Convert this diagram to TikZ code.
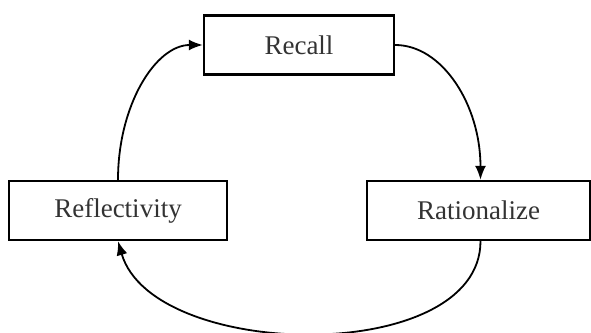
\documentclass[tikz,border=0pt]{standalone}
\usepackage{fontspec}
\setmainfont{Liberation Serif}
\usetikzlibrary{arrows.meta}
\definecolor{txtgray}{HTML}{333333}
\tikzset{
  stage/.style={draw, line width=1.2pt, inner sep=0pt, minimum height=29.5pt,
    text=txtgray, font=\fontsize{13.5}{16}\selectfont},
  cyc/.style={line width=0.9pt, -{Latex[length=7pt,width=5.5pt]}}
}
\begin{document}
\begin{tikzpicture}[x=0.5pt,y=0.5pt]
            \useasboundingbox (0,0) rectangle (591,333);

            % 三个阶段
            \node[stage, minimum width=95pt] (recall) at (299,288) {Recall};
            \node[stage, minimum width=109pt] (reflect) at (118,122.5) {Reflectivity};
            \node[stage, minimum width=111.5pt] (ration) at (478.5,122.5) {Rationalize};

            % 循环箭头
            \draw[cyc] (recall.east) .. controls +(47,0) and +(0,75) .. ([xshift=1pt]ration.north);
            \draw[cyc] ([xshift=1pt]ration.south) .. controls +(0,-125) and +(35,-120) .. (reflect.south);
            \draw[cyc] (reflect.north) .. controls +(0,75) and +(-47,0) .. (recall.west);
        \end{tikzpicture}
\end{document}
